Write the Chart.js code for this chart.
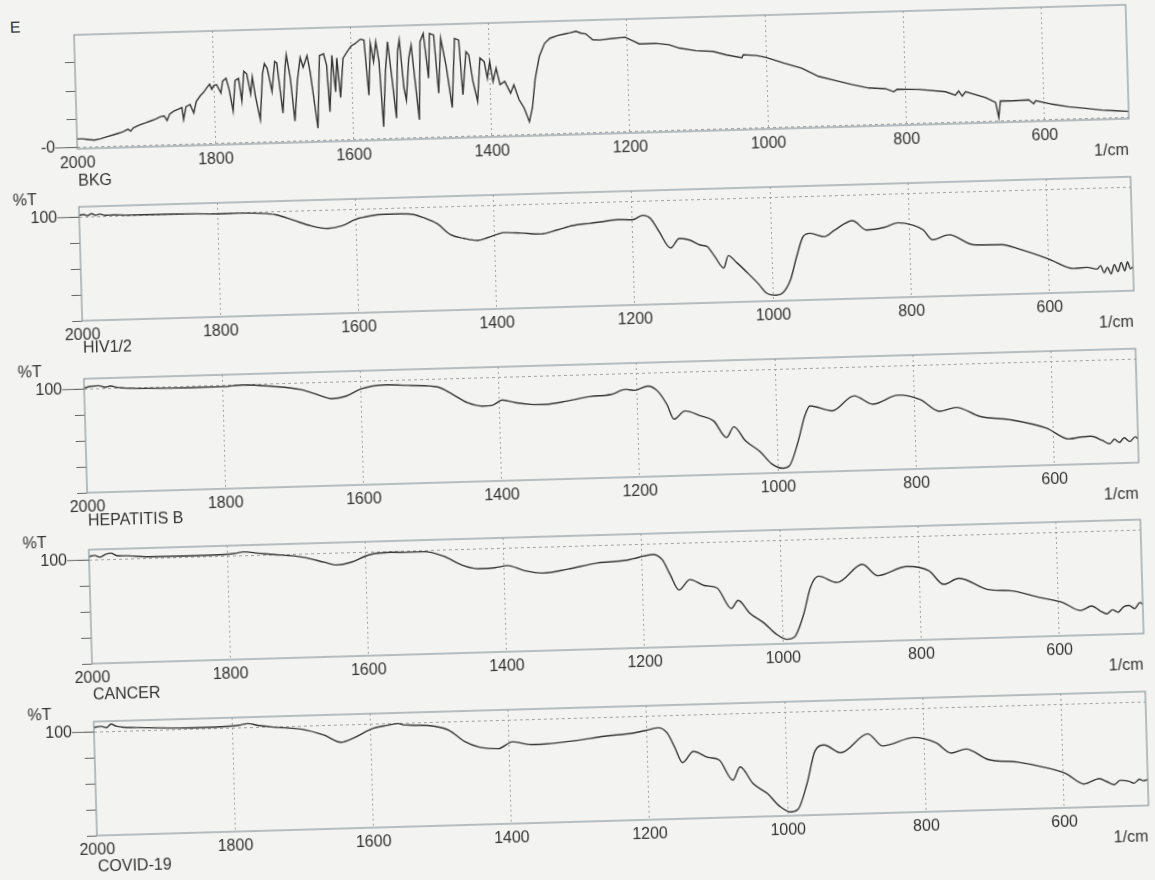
<!DOCTYPE html>
<html>
<head>
<meta charset="utf-8">
<title>FTIR spectra</title>
<script src="https://cdn.jsdelivr.net/npm/chart.js@4.4.1/dist/chart.umd.min.js"></script>
<style>
  html, body { margin: 0; padding: 0; background: #f3f3f1; overflow: hidden; }
  #sheet {
    position: absolute; left: 0; top: 0; width: 1155px; height: 880px;
    transform: rotate(-1.64deg); transform-origin: 0 0;
    font-family: "Liberation Sans", Arial, sans-serif; color: #333;
  }
  #sheet canvas { position: absolute; left: 0; }
  .lbl { position: absolute; font-size: 16px; line-height: 18px; white-space: nowrap; }
</style>
</head>
<body>
<div id="sheet"></div>
<script>
// tick labels
const xTicks = [600, 800, 1000, 1200, 1400, 1600, 1800, 2000];
const eTicks = [0, 1, 2, 3];
const eTickText = { 0: '-0' };
const tTicks = [20, 40, 60, 80, 100];
const tTickText = { 100: '100' };
const panelNames = ['BKG', 'HIV1/2', 'HEPATITIS B', 'CANCER', 'COVID-19'];
const xUnit = '1/cm';

// [wavenumber 1/cm, value]
const bkgE = [
  [2000,0.30],[1992,0.30],[1984,0.27],[1975,0.24],[1966,0.28],[1956,0.35],[1947,0.41],[1938,0.47],
  [1932,0.52],[1926,0.59],[1922,0.52],[1918,0.64],[1908,0.74],[1900,0.80],[1893,0.86],[1886,0.92],
  [1879,1.00],[1873,1.03],[1869,0.86],[1865,1.08],[1859,1.18],[1852,1.25],[1847,1.30],[1845,0.88],
  [1841,1.33],[1835,1.40],[1830,1.10],[1826,1.50],[1820,1.70],[1815,1.82],[1811,1.95],[1806,2.10],
  [1803,1.92],[1800,2.05],[1796,2.08],[1790,1.78],[1787,2.20],[1782,2.29],[1778,1.90],[1773,1.13],
  [1769,2.21],[1764,2.28],[1760,1.48],[1756,2.52],[1752,2.43],[1747,1.72],[1744,2.31],[1740,1.60],
  [1734,0.80],[1729,2.42],[1726,2.77],[1722,2.60],[1716,1.78],[1711,2.84],[1708,2.78],[1701,1.00],
  [1696,2.65],[1694,3.06],[1689,2.24],[1684,0.71],[1679,2.12],[1674,2.95],[1670,2.60],[1664,3.01],
  [1660,2.42],[1651,0.44],[1646,3.00],[1640,3.06],[1636,2.65],[1633,1.00],[1628,3.00],[1624,1.70],
  [1621,2.90],[1617,1.50],[1612,2.88],[1606,3.10],[1600,3.30],[1594,3.39],[1586,3.54],[1581,3.50],
  [1576,1.55],[1572,3.38],[1568,2.73],[1564,3.43],[1560,2.72],[1556,0.42],[1551,2.42],[1547,3.42],
  [1542,2.12],[1537,0.71],[1533,3.06],[1530,3.47],[1525,1.76],[1522,1.34],[1517,2.81],[1513,3.28],
  [1509,2.10],[1504,0.63],[1500,3.39],[1495,3.68],[1489,2.09],[1486,3.67],[1480,3.61],[1475,1.55],
  [1470,3.49],[1463,2.48],[1456,1.03],[1450,3.47],[1444,3.41],[1440,1.47],[1434,2.99],[1430,2.87],
  [1425,1.93],[1419,1.22],[1414,2.75],[1408,2.62],[1404,2.03],[1400,2.62],[1396,1.91],[1391,2.38],
  [1386,1.79],[1379,1.90],[1371,1.48],[1366,1.77],[1359,1.24],[1352,0.94],[1345,0.45],[1340,0.95],
  [1335,1.95],[1328,2.75],[1320,3.20],[1312,3.38],[1300,3.47],[1290,3.52],[1283,3.55],[1274,3.60],
  [1266,3.52],[1260,3.50],[1250,3.28],[1240,3.27],[1222,3.31],[1203,3.34],[1190,3.18],[1183,3.09],
  [1159,3.09],[1140,3.03],[1125,2.90],[1101,2.79],[1077,2.75],[1057,2.61],[1035,2.50],[1033,2.60],
  [1014,2.56],[1000,2.48],[974,2.26],[949,2.07],[925,1.76],[901,1.60],[877,1.44],[853,1.30],
  [829,1.26],[817,1.14],[812,1.22],[781,1.20],[742,1.09],[728,0.96],[723,1.10],[718,0.92],
  [713,1.07],[684,0.84],[670,0.66],[666,0.12],[663,0.71],[646,0.70],[622,0.72],[615,0.58],
  [612,0.68],[588,0.54],[564,0.43],[540,0.36],[516,0.28],[500,0.25],[478,0.21]
];

const hivT = [
  [2000,101.4],[1994,102.0],[1988,101.0],[1982,102.4],[1976,101.2],[1970,101.9],[1962,100.9],[1950,101.0],
  [1930,100.6],[1900,100.5],[1860,100.3],[1830,100.0],[1800,99.5],[1770,99.6],[1740,99.0],[1716,97.6],
  [1690,92.8],[1665,88.2],[1641,85.8],[1620,87.7],[1600,92.3],[1580,94.5],[1560,95.4],[1536,95.4],
  [1515,94.5],[1503,92.2],[1483,87.2],[1464,78.4],[1445,75.2],[1425,73.3],[1410,75.2],[1396,77.6],
  [1387,78.8],[1362,78.0],[1333,76.8],[1309,79.6],[1286,82.7],[1261,84.0],[1246,84.8],[1221,86.2],
  [1200,85.8],[1185,89.0],[1174,86.4],[1162,76.0],[1146,63.2],[1133,70.4],[1118,68.8],[1103,64.8],
  [1093,63.4],[1083,56.0],[1070,46.6],[1063,56.0],[1051,50.4],[1036,42.4],[1020,33.2],[1010,26.6],
  [995,24.4],[985,26.4],[974,36.0],[964,53.9],[954,69.0],[944,71.4],[923,68.5],[908,73.4],
  [882,80.2],[862,72.7],[836,74.4],[816,77.6],[795,75.5],[780,71.5],[767,63.7],[743,67.2],
  [708,59.0],[667,58.4],[641,54.4],[600,46.4],[564,38.4],[545,39.0],[530,37.5],[525,40.0],
  [520,34.5],[515,38.5],[510,33.5],[505,40.5],[500,35.0],[495,42.0],[490,35.5],[486,42.5],
  [482,37.0],[478,38.5]
];

const hepbT = [
  [2000,100.8],[1990,102.0],[1979,102.3],[1970,101.0],[1962,101.8],[1952,100.6],[1930,99.6],[1909,99.2],
  [1845,98.7],[1800,98.8],[1771,99.7],[1728,98.0],[1686,94.8],[1659,89.8],[1643,87.2],[1622,88.7],
  [1600,94.0],[1563,96.6],[1526,95.5],[1489,93.9],[1467,87.7],[1446,81.0],[1425,78.1],[1411,78.4],
  [1396,82.3],[1377,80.0],[1355,78.4],[1334,78.1],[1302,80.1],[1270,83.0],[1238,84.3],[1217,87.8],
  [1204,86.9],[1185,89.9],[1171,85.9],[1158,75.4],[1148,63.8],[1132,69.9],[1110,65.8],[1091,61.6],
  [1073,48.5],[1062,56.6],[1046,45.6],[1025,36.8],[1009,27.2],[993,23.5],[983,25.4],[970,43.1],
  [959,63.5],[951,71.0],[919,66.7],[887,77.8],[860,71.0],[823,77.4],[791,73.3],[764,64.0],
  [740,66.6],[706,59.2],[663,56.0],[610,48.6],[578,39.8],[560,41.0],[546,41.4],[530,38.0],
  [519,35.2],[512,38.5],[505,36.0],[498,39.5],[490,36.5],[482,40.0],[478,38.5]
];

const cancerT = [
  [2000,102.6],[1992,103.5],[1984,102.0],[1976,104.0],[1968,104.8],[1960,102.8],[1947,102.5],[1915,101.2],
  [1862,101.1],[1808,101.3],[1790,101.8],[1776,102.9],[1755,101.5],[1734,100.3],[1691,97.5],[1659,93.0],
  [1643,90.7],[1622,92.4],[1595,97.8],[1563,99.3],[1540,99.0],[1515,99.0],[1489,95.5],[1457,87.0],
  [1436,84.6],[1414,85.0],[1395,86.5],[1372,82.4],[1345,79.9],[1308,82.4],[1265,86.5],[1223,87.9],
  [1207,89.7],[1185,91.8],[1171,87.6],[1161,76.8],[1148,63.9],[1132,71.6],[1111,66.7],[1093,64.6],
  [1073,48.4],[1063,54.6],[1047,44.6],[1026,36.3],[1010,28.0],[994,23.4],[983,25.0],[969,42.0],
  [958,62.9],[946,71.4],[919,66.2],[882,79.6],[860,70.5],[818,76.9],[786,73.2],[765,62.4],
  [743,66.7],[701,57.3],[669,56.0],[626,50.0],[594,45.8],[568,39.2],[552,42.4],[540,38.5],
  [530,36.0],[522,39.0],[514,37.0],[506,41.0],[498,42.0],[490,39.5],[482,44.0],[478,42.5]
];

const covidT = [
  [2000,103.5],[1990,104.2],[1982,103.0],[1975,105.7],[1968,104.0],[1960,103.2],[1940,102.5],[1922,102.1],
  [1858,101.0],[1805,101.4],[1790,102.0],[1778,103.1],[1760,101.2],[1741,99.8],[1699,97.5],[1667,92.4],
  [1643,86.6],[1624,89.8],[1597,96.5],[1575,98.6],[1560,99.8],[1552,98.6],[1539,98.2],[1507,96.8],
  [1486,93.3],[1464,84.3],[1443,79.7],[1416,78.2],[1395,83.2],[1368,80.6],[1347,80.8],[1305,82.6],
  [1262,85.4],[1219,87.3],[1203,88.9],[1184,90.7],[1171,86.5],[1161,75.6],[1150,63.4],[1134,71.7],
  [1113,66.8],[1097,64.6],[1078,48.8],[1067,58.8],[1049,45.6],[1028,37.3],[1012,27.8],[996,22.9],
  [985,24.8],[971,44.3],[958,69.5],[945,73.8],[921,67.5],[881,81.5],[860,71.8],[815,77.6],
  [783,73.1],[761,64.8],[740,67.6],[708,59.0],[666,56.4],[623,51.2],[596,46.4],[570,38.0],
  [548,41.8],[538,39.5],[527,36.8],[518,40.0],[506,39.2],[498,37.5],[490,40.5],[485,39.2],
  [478,40.0]
];

const spectra = [bkgE, hivT, hepbT, cancerT, covidT];

// layout of the (unrotated) sheet
const frameTops = [37, 209, 381, 552, 724];
const FRAME_H = 114;
const nameY = [183, 350, 523, 697, 869];
const FONT = { family: '"Liberation Sans", Arial, sans-serif', size: 16 };
const sheet = document.getElementById('sheet');

function addText(txt, left, centerY, right) {
  const d = document.createElement('div');
  d.className = 'lbl';
  d.textContent = txt;
  if (right !== undefined) d.style.right = right + 'px';
  else d.style.left = left + 'px';
  d.style.top = (centerY - 9) + 'px';
  sheet.appendChild(d);
}

// box around the plot and the long leader at the labelled y tick
const framePlugin = {
  id: 'frame',
  afterDraw(chart, args, opts) {
    const { ctx, chartArea: a, scales } = chart;
    ctx.save();
    ctx.strokeStyle = '#8e9aa1';
    ctx.lineWidth = 1.2;
    ctx.strokeRect(a.left, a.top, a.right - a.left, a.bottom - a.top);
    const py = scales.y.getPixelForValue(opts.value);
    ctx.strokeStyle = '#666';
    ctx.lineWidth = 1;
    ctx.beginPath();
    ctx.moveTo(a.left - 22, py);
    ctx.lineTo(a.left, py);
    ctx.stroke();
    ctx.restore();
  }
};

addText('E', 9, 28);

spectra.forEach((pts, i) => {
  const isE = i === 0;
  const yTicks = isE ? eTicks : tTicks;
  const yText = isE ? eTickText : tTickText;
  const refValue = isE ? 0 : 100;

  const cv = document.createElement('canvas');
  cv.width = 1155;
  cv.height = 165;
  cv.style.top = (frameTops[i] - 10) + 'px';
  sheet.appendChild(cv);

  if (!isE) addText('%T', 7, frameTops[i] - 8);
  addText(panelNames[i], 73, nameY[i]);
  addText(xUnit, 0, frameTops[i] + FRAME_H + 31, 31);

  new Chart(cv, {
    type: 'line',
    data: {
      datasets: [{
        label: panelNames[i],
        data: pts.map(p => ({ x: p[0], y: p[1] })),
        borderColor: '#363636',
        borderWidth: 1.4,
        pointRadius: 0,
        fill: false,
        tension: 0,
        cubicInterpolationMode: isE ? 'default' : 'monotone'
      }]
    },
    options: {
      responsive: false,
      animation: false,
      layout: { padding: { top: 10, right: 30, bottom: 0, left: 0 } },
      plugins: {
        legend: { display: false },
        tooltip: { enabled: false },
        frame: { value: refValue }
      },
      scales: {
        x: {
          type: 'linear',
          reverse: true,
          min: 478,
          max: 2000,
          afterBuildTicks: s => { s.ticks = xTicks.map(v => ({ value: v })); },
          afterFit: s => { s.height = 41; s.paddingLeft = 0; s.paddingRight = 0; },
          ticks: {
            autoSkip: false, maxRotation: 0, padding: 5, color: '#333', font: FONT,
            callback: v => String(v)
          },
          grid: {
            color: c => (c.tick && c.tick.value === 2000) ? 'rgba(0,0,0,0)' : '#a3a3a3',
            drawTicks: false,
            lineWidth: 1
          },
          border: { display: false, dash: [2, 3] }
        },
        y: {
          min: isE ? -0.05 : 20,
          max: isE ? 3.98 : 108,
          afterBuildTicks: s => { s.ticks = yTicks.map(v => ({ value: v })); },
          afterFit: s => { s.width = 73; s.paddingTop = 0; s.paddingBottom = 0; },
          ticks: {
            callback: v => yText[v] || '',
            padding: 12,
            color: '#333',
            font: FONT
          },
          grid: {
            color: c => (c.tick && c.tick.value === refValue) ? '#a3a3a3' : 'rgba(0,0,0,0)',
            tickColor: '#666',
            tickLength: 10,
            lineWidth: 1
          },
          border: { display: false, dash: [3, 3] }
        }
      }
    },
    plugins: [framePlugin]
  });
});
</script>
</body>
</html>
